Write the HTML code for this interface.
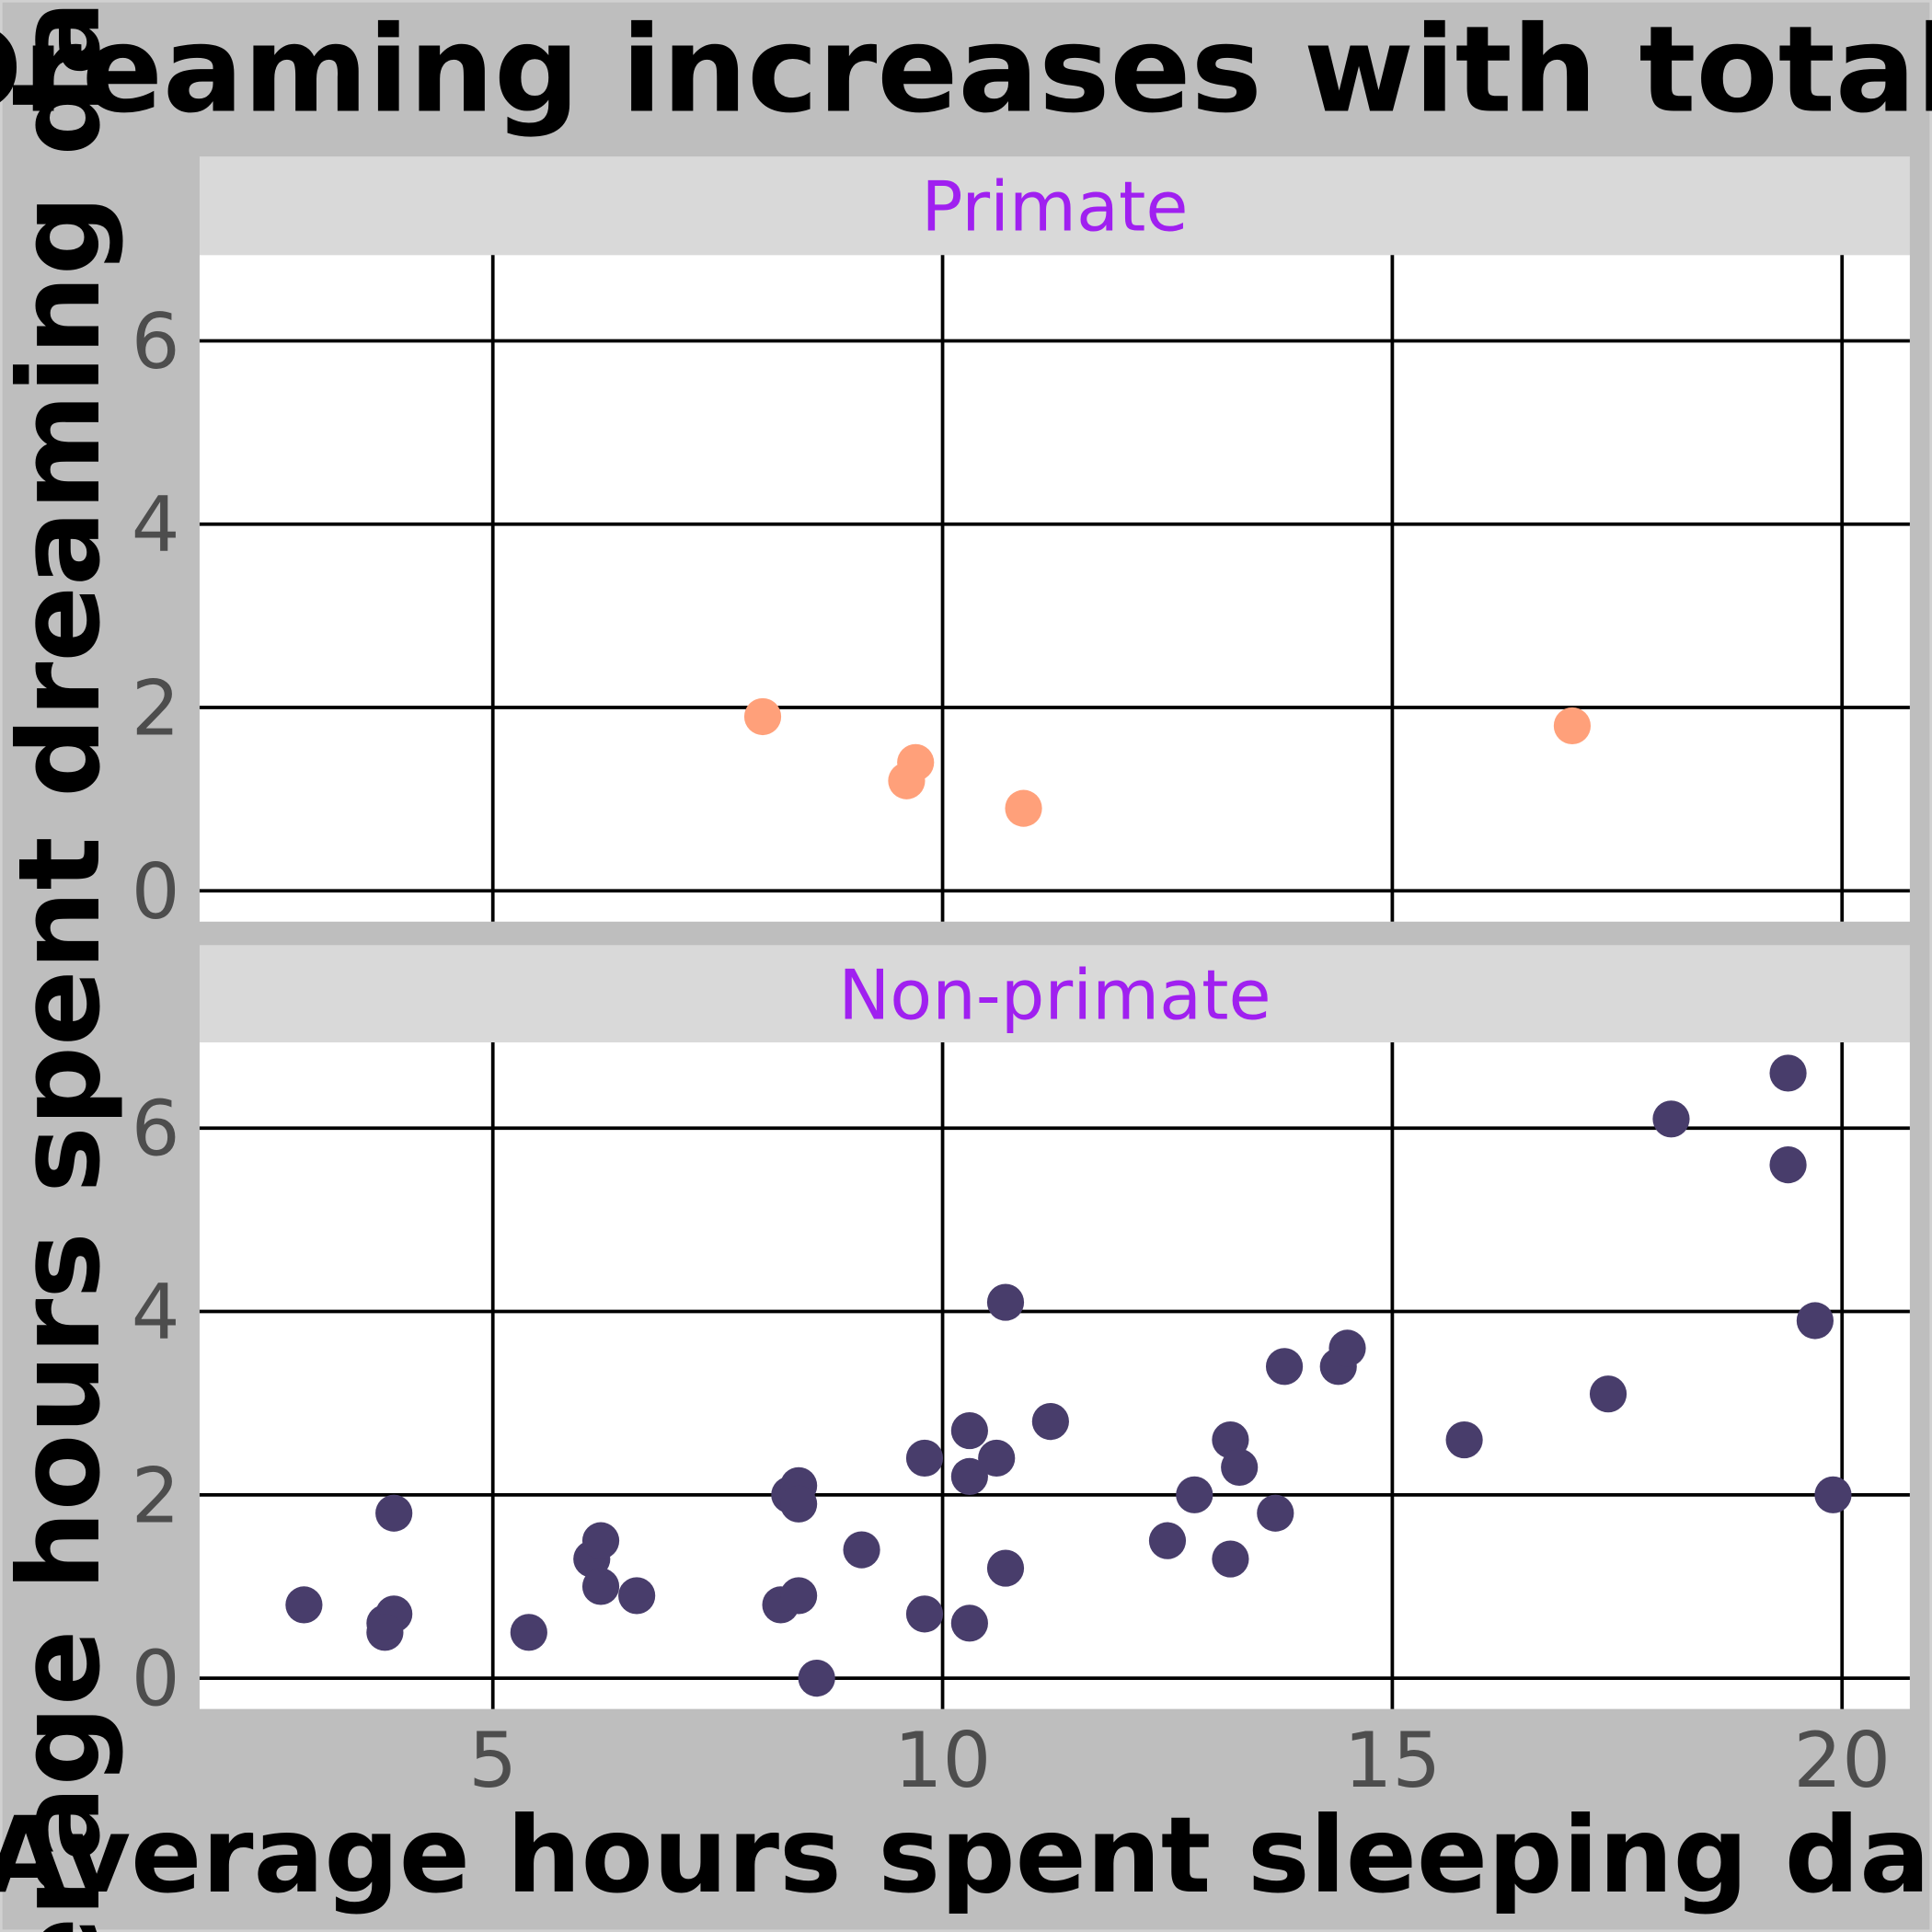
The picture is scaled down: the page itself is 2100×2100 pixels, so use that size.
<!DOCTYPE html>
<html><head><meta charset="utf-8"><style>
html,body{margin:0;padding:0;background:#bebebe;width:2100px;height:2100px;overflow:hidden;}
svg{display:block;}
text{font-family:"DejaVu Sans","Liberation Sans",sans-serif;}
</style></head><body>
<svg id="chart" width="2100" height="2100" viewBox="0 0 1568 1568" xmlns="http://www.w3.org/2000/svg">
<rect x="0" y="0" width="1568" height="1568" fill="#bebebe" stroke="#d0d0d0" stroke-width="4"/>
<text x="-62" y="90" font-size="97" font-weight="bold" fill="#000">Dreaming increases with total sleep</text>
<text x="-12" y="1535" font-size="85" font-weight="bold" fill="#000">Average hours spent sleeping daily</text>
<text transform="translate(80,1744) rotate(-90)" font-size="91" font-weight="bold" fill="#000">Average hours spent dreaming daily</text>
<g id="panels"></g>
</svg>
<script>
const xTicks = [5, 10, 15, 20];
const yTicks = [0, 2, 4, 6];
const panelNames = ["Primate", "Non-primate"];
const primateX = [8.0, 9.7, 9.6, 10.9, 17.0];
const primateY = [1.9, 1.4, 1.2, 0.9, 1.8];
const nonPrimateX = [2.9,3.9,3.8,3.9,3.8,5.4,6.1,6.2,6.2,6.6,8.3,8.4,8.4,8.2,8.4,8.6,9.1,9.8,9.8,10.3,10.3,10.6,10.7,10.7,10.3,11.2,12.5,12.8,13.2,13.3,13.2,13.7,13.8,14.4,14.5,15.8,17.4,18.1,19.4,19.4,19.7,19.9];
const nonPrimateY = [0.8,1.8,0.6,0.7,0.5,0.5,1.3,1.5,1.0,0.9,2.0,2.1,1.9,0.8,0.9,0.0,1.4,2.4,0.7,2.7,2.2,2.4,4.1,1.2,0.6,2.8,1.5,2.0,2.6,2.3,1.3,1.8,3.4,3.4,3.6,2.6,3.1,6.1,6.6,5.6,3.9,2.0];

const NS = "http://www.w3.org/2000/svg";
const g = document.getElementById("panels");
const PX0 = 162, PX1 = 1550;
const xScale = v => 400 + (v - 5) * 73;
const panels = [
  {strip: 127, top: 207, bottom: 748, zero: 723, xs: primateX, ys: primateY, color: "#ffa07a", name: "primate"},
  {strip: 767, top: 846, bottom: 1387, zero: 1362, xs: nonPrimateX, ys: nonPrimateY, color: "#483d6b", name: "non-primate"}
];
function el(tag, attrs) { const e = document.createElementNS(NS, tag); for (const k in attrs) e.setAttribute(k, attrs[k]); g.appendChild(e); return e; }

panels.forEach((p, i) => {
  const yScale = v => p.zero - v * 74.4;
  let r = el("rect", {x: PX0, y: p.strip, width: PX1 - PX0, height: p.top - p.strip, fill: "#d9d9d9"});
  
  
  let st = el("text", {x: (PX0 + PX1) / 2, y: p.strip + 60, "font-size": 56, fill: "#a020f0", "text-anchor": "middle"});
  st.textContent = panelNames[i];
  
  
  let bg = el("rect", {x: PX0, y: p.top, width: PX1 - PX0, height: p.bottom - p.top, fill: "#fff"});
  
  
  xTicks.forEach(t => {
    let l = el("line", {x1: xScale(t), x2: xScale(t), y1: p.top, y2: p.bottom, stroke: "#000", "stroke-width": 2.8});
    
    
  });
  yTicks.forEach(t => {
    let l = el("line", {x1: PX0, x2: PX1, y1: yScale(t), y2: yScale(t), stroke: "#000", "stroke-width": 2.8});
    
    
    let tx = el("text", {x: 146, y: yScale(t) + 22, "font-size": 62, fill: "#4d4d4d", "text-anchor": "end"});
    tx.textContent = t;
    
    
  });
  p.xs.forEach((xv, j) => {
    let c = el("circle", {cx: xScale(xv), cy: yScale(p.ys[j]), r: 15, fill: p.color});
    
    
  });
});
xTicks.forEach(t => {
  let tx = el("text", {x: xScale(t), y: 1450, "font-size": 62, fill: "#4d4d4d", "text-anchor": "middle"});
  tx.textContent = t;
  
  
});
</script>
</body></html>
